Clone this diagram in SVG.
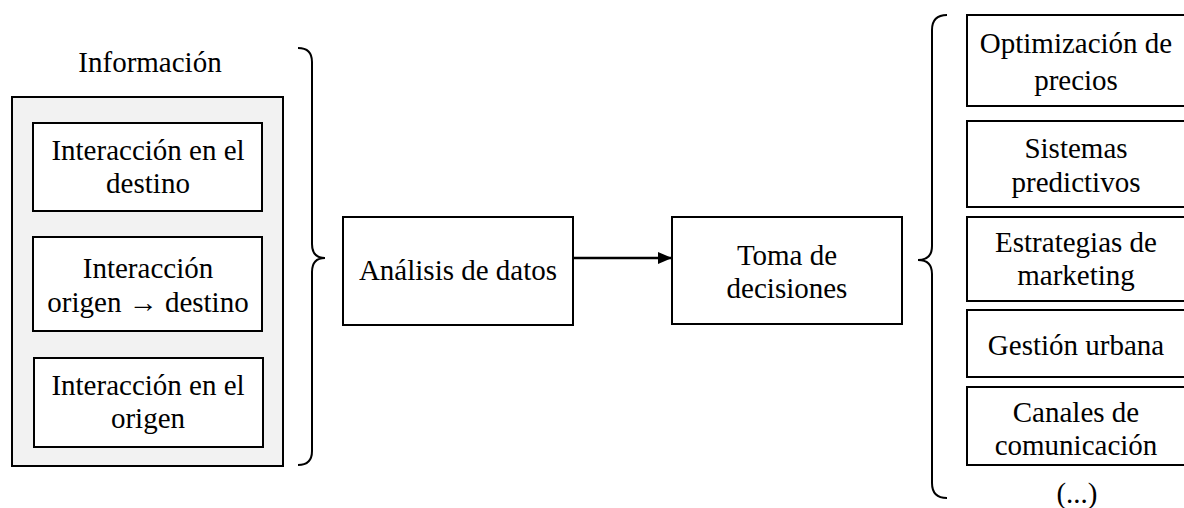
<svg xmlns="http://www.w3.org/2000/svg" width="1184" height="508" viewBox="0 0 1184 508">
<style>
.box{fill:#ffffff;stroke:#000000;stroke-width:2}
.outer{fill:#f2f2f2;stroke:#000000;stroke-width:2}
.brace{fill:none;stroke:#000000;stroke-width:2}
text{font-family:'Liberation Serif','DejaVu Serif',serif;font-size:29px;fill:#000000;text-anchor:middle}
.conn{stroke:#000000;stroke-width:2.5;fill:none}
</style>
<defs>
<marker id="arrow" viewBox="0 0 14 12" refX="14" refY="6" markerWidth="14" markerHeight="12" markerUnits="userSpaceOnUse" orient="auto">
<path d="M0,0 L14,6 L0,12 Z" fill="#000000"/>
</marker>
</defs>
<rect width="1184" height="508" fill="#ffffff"/>

<g id="informacion">
<text x="150" y="72">Información</text>
<rect class="outer" x="12" y="97" width="271" height="369"/>
</g>
<g id="interaccion-destino">
<rect class="box" x="33" y="123" width="229" height="88"/>
<text x="148" y="160">Interacción en el</text>
<text x="148" y="193">destino</text>
</g>
<g id="interaccion-origen-destino">
<rect class="box" x="33" y="237" width="229" height="94"/>
<text x="148" y="278">Interacción</text>
<text x="148" y="312">origen → destino</text>
</g>
<g id="interaccion-origen">
<rect class="box" x="34" y="358" width="229" height="89"/>
<text x="148" y="395">Interacción en el</text>
<text x="148" y="428">origen</text>
</g>

<g id="brace-left">
<path class="brace" d="M298,48 Q312,48 312,62 L312,244 Q312,258 325,258 Q312,258 312,272 L312,451 Q312,465 298,465"/>
</g>

<g id="analisis">
<rect class="box" x="343" y="217" width="230" height="108"/>
<text x="458" y="280">Análisis de datos</text>
</g>

<g id="toma">
<rect class="box" x="672" y="217" width="230" height="107"/>
<text x="787" y="265">Toma de</text>
<text x="787" y="298">decisiones</text>
</g>

<g id="brace-right">
<path class="brace" d="M947,15 Q932,15 932,30 L932,246 Q932,260 918,260 Q932,260 932,274 L932,483 Q932,498 947,498"/>
</g>

<g id="optimizacion">
<rect class="box" x="967" y="15" width="230" height="91"/>
<text x="1076" y="53">Optimización de</text>
<text x="1076" y="90">precios</text>
</g>
<g id="sistemas">
<rect class="box" x="967" y="121" width="230" height="86"/>
<text x="1076" y="158">Sistemas</text>
<text x="1076" y="192">predictivos</text>
</g>
<g id="estrategias">
<rect class="box" x="967" y="217" width="230" height="84"/>
<text x="1076" y="252">Estrategias de</text>
<text x="1076" y="285">marketing</text>
</g>
<g id="gestion">
<rect class="box" x="967" y="310" width="230" height="67"/>
<text x="1076" y="355">Gestión urbana</text>
</g>
<g id="canales">
<rect class="box" x="967" y="387" width="230" height="78"/>
<text x="1076" y="422">Canales de</text>
<text x="1076" y="455">comunicación</text>
</g>
<g id="etc">
<text x="1077" y="503">(...)</text>
</g>

<g id="connectors">
<line class="conn" x1="573" y1="258" x2="672" y2="258" marker-end="url(#arrow)"/>
</g>
</svg>
